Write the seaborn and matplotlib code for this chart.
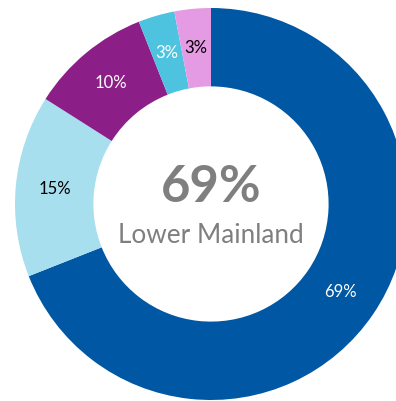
import matplotlib
matplotlib.use("Agg")
import matplotlib.pyplot as plt
import seaborn as sns

# Data
regions = ['Lower Mainland', 'Vancouver Island', 'Interior', 'North', 'Other']
shares = [69, 15, 10, 3, 3]
colors = ['#0057A3', '#A8DFEE', '#8B1E87', '#4EC3E0', '#E59BE3']
label_colors = ['white', 'black', 'white', 'white', 'black']

sns.set_theme(style="white")
plt.rcParams['font.family'] = ['Lato', 'DejaVu Sans']

fig = plt.figure(figsize=(3.96, 4.01), dpi=100)
# axes placed so the ring runs slightly past the right edge, like the original
ax = fig.add_axes([15 / 396, 1 / 401, 392 / 396, 392 / 401])

wedges, texts = ax.pie(
    shares,
    colors=colors,
    startangle=90,
    counterclock=False,
    labels=[f'{s}%' for s in shares],
    labeldistance=0.8,
    radius=1.0,
    wedgeprops=dict(width=0.4, edgecolor='none'),
    textprops=dict(fontsize=12),
)
for t, c in zip(texts, label_colors):
    t.set_color(c)
    t.set_horizontalalignment('center')
    t.set_verticalalignment('center')

ax.text(0, 0.085, f'{shares[0]}%', ha='center', va='center',
        fontsize=36.5, fontweight='bold', color='#7F7F7F')
ax.text(0, -0.16, regions[0], ha='center', va='center',
        fontsize=18.8, color='#7F7F7F')

ax.set_xlim(-1, 1)
ax.set_ylim(-1, 1)
ax.set_aspect('equal')
ax.axis('off')

fig.savefig('out.png', dpi=100)
